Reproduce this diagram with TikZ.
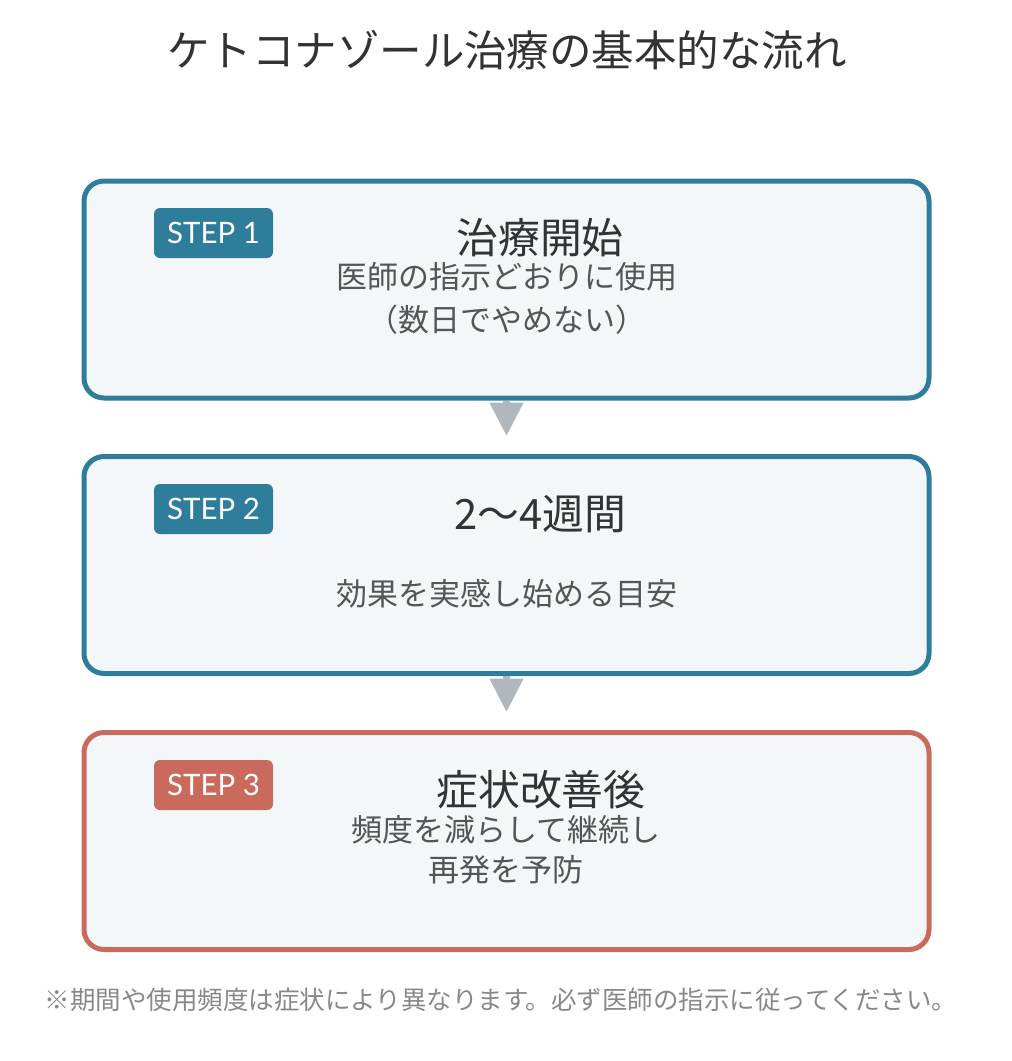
\documentclass[tikz,border=0pt]{standalone}
\usepackage{fontspec}
\setmainfont{Noto Sans CJK JP}
\newfontfamily\latinfont{Lato}
\usetikzlibrary{arrows.meta}
\definecolor{teal1}{HTML}{2E7D9A}
\definecolor{red1}{HTML}{C96A5C}
\definecolor{boxfill}{HTML}{F3F7FA}
\definecolor{txtdark}{HTML}{333333}
\definecolor{txtmid}{HTML}{555555}
\definecolor{txtfoot}{HTML}{888888}
\definecolor{arrowgray}{HTML}{B0B7BD}
\tikzset{
  stepcard/.style={draw=#1, line width=5pt, fill=boxfill, rounded corners=20pt,
    minimum width=845pt, minimum height=217pt, inner sep=0pt},
  badge/.style={fill=#1, rounded corners=6pt, minimum width=119pt, minimum height=50pt,
    inner sep=0pt, text=white, font=\latinfont\fontsize{29.5}{32}\selectfont},
  headtxt/.style={text=txtdark, font=\fontsize{41.8}{46}\selectfont, inner sep=0pt},
  subtxt/.style={text=txtmid, font=\fontsize{31}{40}\selectfont, inner sep=0pt, align=center},
  flow/.style={draw=arrowgray, line width=7pt, -{Triangle[length=33pt,width=34pt,line width=1pt,round,fill=arrowgray]}, shorten >=19pt},
}
\begin{document}
\begin{tikzpicture}[x=1pt,y=-1pt]
\useasboundingbox (0,0) rectangle (1012,1061);
\node[text=txtdark, font=\fontsize{42.5}{48}\selectfont, inner sep=0pt] (title) at (507,50) {ケトコナゾール治療の基本的な流れ};

\node[stepcard=teal1] (box1) at (506.5,289.5) {};
\node[stepcard=teal1] (box2) at (506.5,565) {};
\node[stepcard=red1] (box3) at (506.5,841) {};

\node[badge=teal1] (badge1) at (213.5,233) {STEP 1};
\node[badge=teal1] (badge2) at (213.5,509) {STEP 2};
\node[badge=red1] (badge3) at (213.5,785) {STEP 3};

\node[headtxt] (h1) at (540,238) {治療開始};
\node[subtxt] (s1a) at (507,277) {医師の指示どおりに使用};
\node[subtxt] (s1b) at (507,320) {（数日でやめない）};

\node[headtxt] (h2) at (540,514) {2〜4週間};
\node[subtxt] (s2) at (507,594) {効果を実感し始める目安};

\node[headtxt] (h3) at (541,790) {症状改善後};
\node[subtxt] (s3a) at (506,830) {頻度を減らして継続し};
\node[subtxt] (s3b) at (506,870) {再発を予防};

\draw[flow] (box1.south) -- (box2.north);
\draw[flow] (box2.south) -- (box3.north);

\node[text=txtfoot, font=\fontsize{25.5}{30}\selectfont, inner sep=0pt] (foot) at (501,1000) {※期間や使用頻度は症状により異なります。必ず医師の指示に従ってください。};
\end{tikzpicture}
\end{document}
